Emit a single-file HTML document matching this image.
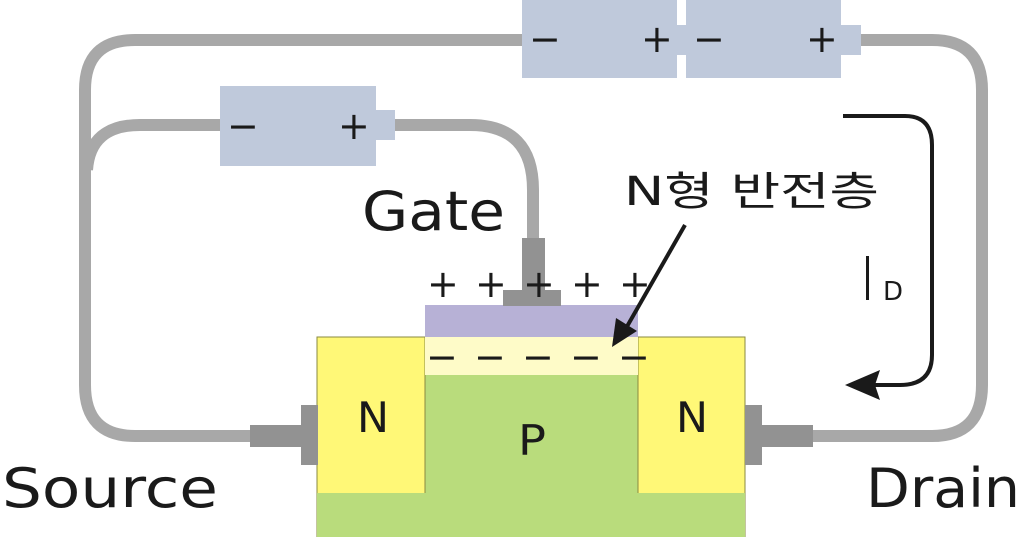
<!DOCTYPE html>
<html><head><meta charset="utf-8"><style>
html,body{margin:0;padding:0;background:#fff;width:1024px;height:537px;overflow:hidden}
svg{display:block}
text{font-family:"DejaVu Sans","Noto Sans CJK KR",sans-serif;font-weight:normal;fill:#1a1a1a}
</style></head><body>
<svg width="1024" height="537" viewBox="0 0 1024 537" xmlns="http://www.w3.org/2000/svg">
<g fill="none" stroke="#a8a8a8" stroke-width="12">
<path d="M525 40 H135 Q85 40 85 90 V385 Q85 436 135 436 H255"/>
<path d="M222 125 H140 Q90 125 87 170"/>
<path d="M390 125 H470 Q533 125 533 190 V245"/>
<path d="M858 40 H932 Q982 40 982 90 V385 Q982 436 932 436 H810"/>
</g>
<g fill="#bfc9db">
<rect x="522" y="0" width="155" height="78"/>
<rect x="677" y="25" width="10" height="30"/>
<rect x="686" y="0" width="155" height="78"/>
<rect x="840" y="25" width="21" height="30"/>
<rect x="220" y="86" width="156" height="80"/>
<rect x="375" y="110" width="20" height="30"/>
</g>
<g font-size="38" font-family="Liberation Sans">
<text x="529" y="52">−</text><text x="641" y="52">+</text>
<text x="693" y="52">−</text><text x="806" y="52">+</text>
<text x="227" y="139">−</text><text x="338" y="139">+</text>
</g>
<rect x="317" y="337" width="428" height="200" fill="#fff877" stroke="#8a8a40" stroke-width="1"/>
<rect x="317" y="493" width="428" height="44" fill="#b9dc7c"/>
<rect x="425" y="337" width="213" height="156" fill="#b9dc7c"/>
<line x1="425" y1="337" x2="425" y2="493" stroke="#8a8a40" stroke-width="1"/>
<line x1="638" y1="337" x2="638" y2="493" stroke="#8a8a40" stroke-width="1"/>
<rect x="425" y="337" width="213" height="38" fill="#fefbc8"/>
<rect x="425" y="305" width="213" height="32" fill="#b7b1d6"/>
<g fill="#929292">
<rect x="522" y="238" width="23" height="55"/>
<rect x="503" y="290" width="58" height="16"/>
<rect x="250" y="425" width="52" height="22"/>
<rect x="301" y="405" width="17" height="60"/>
<rect x="745" y="405" width="17" height="60"/>
<rect x="761" y="425" width="52" height="22"/>
</g>
<g font-size="38" font-family="Liberation Sans">
<text x="427" y="297">+</text><text x="475" y="297">+</text><text x="523" y="297">+</text><text x="571" y="297">+</text><text x="619" y="297">+</text>
<text x="426" y="370">−</text><text x="474" y="370">−</text><text x="522" y="370">−</text><text x="570" y="370">−</text><text x="618" y="370">−</text>
</g>
<g font-size="42">
<text x="357" y="432" textLength="32" lengthAdjust="spacingAndGlyphs">N</text>
<text x="676" y="432" textLength="32" lengthAdjust="spacingAndGlyphs">N</text>
<text x="518" y="455" textLength="28" lengthAdjust="spacingAndGlyphs">P</text>
</g>
<text x="362" y="230" font-size="54" textLength="143" lengthAdjust="spacingAndGlyphs">Gate</text>
<text x="2" y="507" font-size="54" textLength="216" lengthAdjust="spacingAndGlyphs">Source</text>
<text x="866" y="507" font-size="54" textLength="154" lengthAdjust="spacingAndGlyphs">Drain</text>
<text x="624" y="205" font-size="40" textLength="255" lengthAdjust="spacingAndGlyphs">N형 반전층</text>
<rect x="866" y="256" width="3" height="44" fill="#1a1a1a"/>
<text x="883" y="300" font-size="26">D</text>
<path d="M843 116 H905 Q932 116 932 145 V355 Q932 385 900 385 H870" fill="none" stroke="#1a1a1a" stroke-width="4"/>
<polygon points="845,385 880,370 875,385 880,400" fill="#1a1a1a"/>
<line x1="685" y1="225" x2="625" y2="330" stroke="#1a1a1a" stroke-width="4"/>
<polygon points="612,347 616,318 637,331" fill="#1a1a1a"/>
</svg>
</body></html>
